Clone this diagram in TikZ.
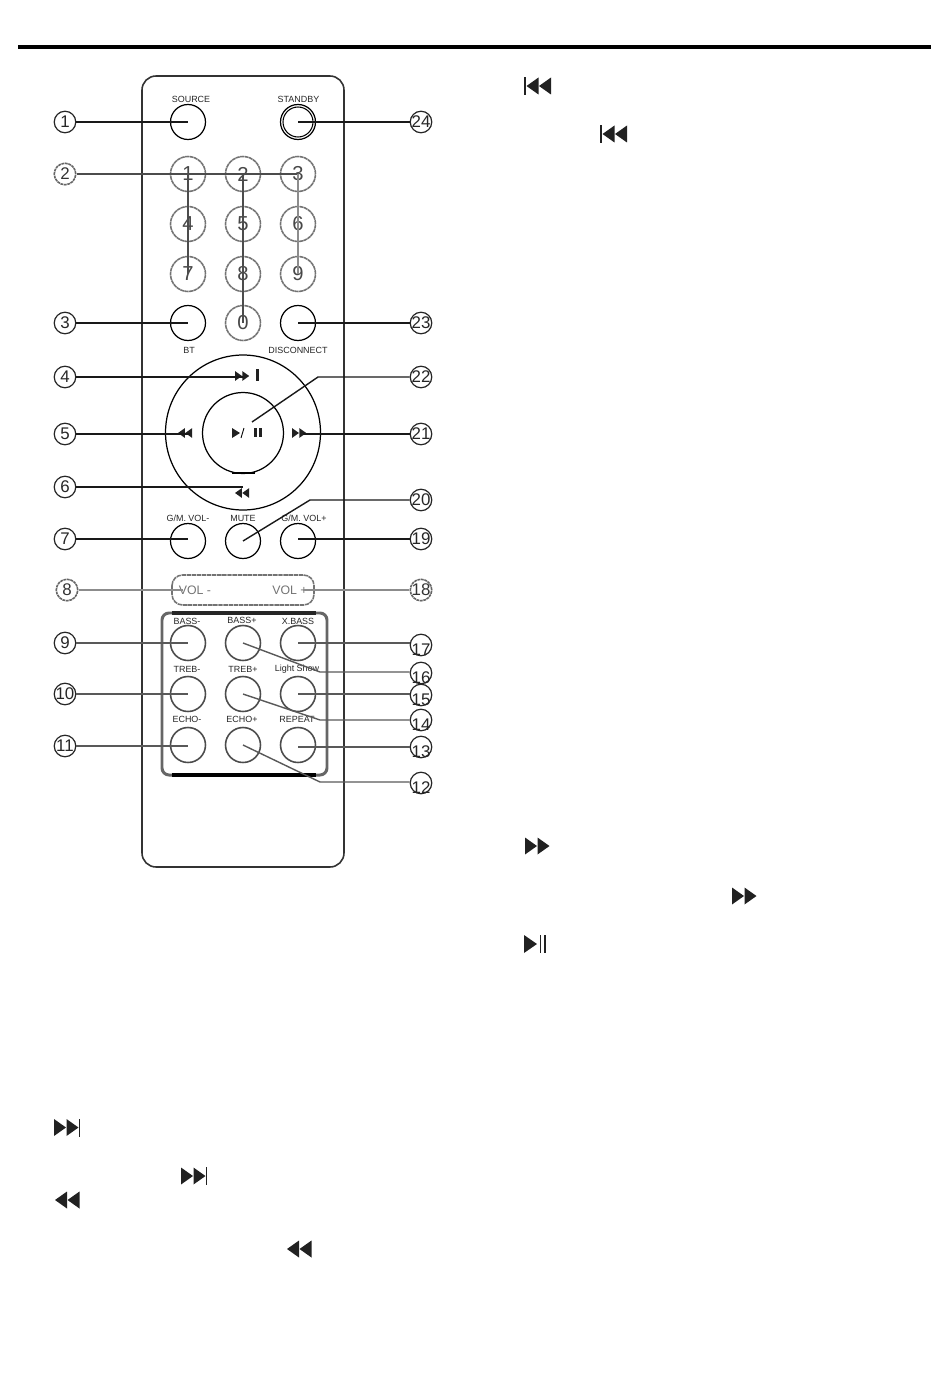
\documentclass[tikz,border=0pt]{standalone}
\usepackage{fontspec}
\setmainfont{Liberation Sans}
\usetikzlibrary{positioning, calc}
\definecolor{iconblack}{rgb}{0.13,0.13,0.13}
\newcommand{\midNum}[1]{\makebox[0pt]{#1}}
\newcommand{\lowNum}[1]{\makebox[0pt]{\raisebox{-6pt}[0pt][0pt]{#1}}}
\tikzset{
	every text node part/.style = {align=center},
	callout/.style = {draw, circle, inner sep=0pt, minimum size=0.43cm, line width=0.7pt, font=\fontsize{9.6}{9.6}\selectfont, color=black!85},
	calloutgray/.style = {callout, draw=black!60, text=black!80, dash pattern=on 1.6pt off 0.4pt, line width=0.9pt},
	keybtn/.style = {draw, circle, inner sep=0pt, minimum size=0.7cm, line width=0.7pt},
	keygray/.style = {keybtn, draw=black!55, text=black!72, line width=0.9pt, dash pattern=on 2.2pt off 0.3pt, font=\fontsize{11.5}{11.5}\selectfont},
	keysound/.style = {keybtn, color=black!70, line width=0.9pt},
	keylabel/.style = {inner sep=0pt, font=\fontsize{5.1}{5.1}\selectfont, color=black!85},
	lead/.style = {line width=0.8pt, color=black!90},
	leadgray/.style = {line width=0.8pt, color=black!45},
	leadsound/.style = {line width=0.8pt, color=black!65},
	fwdtwo/.pic = {
		\fill[iconblack] (0,-8.5) -- (12,0) -- (0,8.5) -- cycle;
		\fill[iconblack] (12.5,-8.5) -- (24.5,0) -- (12.5,8.5) -- cycle;
	},
	rewtwo/.pic = {
		\fill[iconblack] (12,-8.5) -- (0,0) -- (12,8.5) -- cycle;
		\fill[iconblack] (24.5,-8.5) -- (12.5,0) -- (24.5,8.5) -- cycle;
	},
	nexticon/.pic = {
		\pic {fwdtwo};
		\fill[iconblack] (24.5,-9) rectangle (26.2,9);
	},
	previcon/.pic = {
		\fill[iconblack] (0,-9) rectangle (1.7,9);
		\pic at (2.5,0) {rewtwo};
	}
}

\begin{document}
\begin{tikzpicture}[x=0.02cm, y=-0.02cm]
	\useasboundingbox (0,0) rectangle (950,1392);
	
	\pgfmathsetmacro{\xL}{188}
	\pgfmathsetmacro{\xM}{243}
	\pgfmathsetmacro{\xR}{298}
	
	\draw [line width=2.3pt] (18,47) -- (931,47);
	
	% remote body
	\draw [line width=0.9pt, color=black!80, rounded corners=8pt] (142,76) rectangle (344,867);
	\draw [line width=1.7pt, color=black!60, rounded corners=4pt] (162,613) rectangle (327,775);
	\draw [line width=1.9pt, color=black!85] (172,613) -- (316,613);
	\draw [line width=2.2pt] (172,775) -- (316,775);
	
	% top buttons
	\node [keybtn] (btnSource) at (\xL,122) {};
	\node [keybtn] (btnStandby) at (\xR,122) {};
	\draw [line width=0.6pt] (\xR,122) circle (15);
	\node [keylabel] (txtSource) at (191,99) {SOURCE};
	\node [keylabel] (txtStandby) at (298.5,99) {STANDBY};
	
	% number keys
	\node [keygray] (key1) at (\xL,174) {1};
	\node [keygray] (key2) at (\xM,174) {2};
	\node [keygray] (key3) at (\xR,174) {3};
	\node [keygray] (key4) at (\xL,224) {4};
	\node [keygray] (key5) at (\xM,224) {5};
	\node [keygray] (key6) at (\xR,224) {6};
	\node [keygray] (key7) at (\xL,274) {7};
	\node [keygray] (key8) at (\xM,274) {8};
	\node [keygray] (key9) at (\xR,274) {9};
	\node [keygray] (key0) at (\xM,323) {0};
	\node [keybtn] (btnBT) at (\xL,323) {};
	\node [keybtn] (btnDisc) at (\xR,323) {};
	\node [keylabel] (txtBT) at (189,350) {BT};
	\node [keylabel] (txtDisc) at (298,350) {DISCONNECT};
	
	% wheel
	\node [draw, circle, inner sep=0pt, minimum size=3.1cm, line width=0.7pt] (wheelOut) at (243,432.5) {};
	\node [draw, circle, inner sep=0pt, minimum size=1.62cm, line width=0.7pt] (wheelIn) at (243,433) {};
	\draw [line width=1.4pt] (232,473) -- (255,473);
	\pic [scale=0.58] at (235,376) {fwdtwo};
	\fill [iconblack] (255.5,369) rectangle (258.5,381);
	\pic [scale=0.58] at (178,433) {rewtwo};
	\pic [scale=0.58] at (292,433) {fwdtwo};
	\pic [scale=0.58] at (235,493) {rewtwo};
	\fill [iconblack] (232,428) -- (240,433) -- (232,438) -- cycle;
	\draw [line width=0.5pt] (241,438) -- (244,428);
	\fill [iconblack] (254,428) rectangle (257,437);
	\fill [iconblack] (258.5,428) rectangle (261.5,437);
	
	% volume row
	\node [keybtn] (btnGmDown) at (\xL,541) {};
	\node [keybtn] (btnMute) at (\xM,541) {};
	\node [keybtn] (btnGmUp) at (\xR,541) {};
	\node [keylabel] (txtGmDown) at (188,518) {G/M. VOL-};
	\node [keylabel] (txtMute) at (243,518) {MUTE};
	\node [keylabel] (txtGmUp) at (304,518) {G/M. VOL+};
	\draw [line width=0.9pt, color=black!55, dash pattern=on 2.5pt off 0.4pt, rounded corners=6pt] (172,575) rectangle (314,605);
	\node [inner sep=0pt, font=\fontsize{7}{7}\selectfont, color=black!55] (txtVolDown) at (195,590.5) {VOL -};
	\node [inner sep=0pt, font=\fontsize{7}{7}\selectfont, color=black!55] (txtVolUp) at (290,590.5) {VOL +};
	
	% sound keys
	\node [keysound] (btnBassDown) at (\xL,643) {};
	\node [keysound] (btnBassUp) at (\xM,643) {};
	\node [keysound] (btnXBass) at (\xR,643) {};
	\node [keysound] (btnTrebDown) at (\xL,694) {};
	\node [keysound] (btnTrebUp) at (\xM,694) {};
	\node [keysound] (btnLight) at (\xR,694) {};
	\node [keysound] (btnEchoDown) at (\xL,745) {};
	\node [keysound] (btnEchoUp) at (\xM,745) {};
	\node [keysound] (btnRepeat) at (\xR,745) {};
	\node [keylabel] (txtBassDown) at (187,621) {BASS-};
	\node [keylabel] (txtBassUp) at (242,620) {BASS+};
	\node [keylabel] (txtXBass) at (298,621) {X.BASS};
	\node [keylabel] (txtTrebDown) at (187,669) {TREB-};
	\node [keylabel] (txtTrebUp) at (243,669) {TREB+};
	\node [keylabel] (txtLight) at (297,669.5) {Light Show};
	\node [keylabel] (txtEchoDown) at (187,719) {ECHO-};
	\node [keylabel] (txtEchoUp) at (242,719) {ECHO+};
	\node [keylabel] (txtRepeat) at (297,719) {REPEAT};
	
	% callouts left
	\node [callout] (c1) at (65,122) {1};
	\node [calloutgray] (c2) at (65,174) {2};
	\node [callout] (c3) at (65,323) {3};
	\node [callout] (c4) at (65,377) {4};
	\node [callout] (c5) at (65,434) {5};
	\node [callout] (c6) at (65,487) {6};
	\node [callout] (c7) at (65,539) {7};
	\node [calloutgray] (c8) at (67,590) {8};
	\node [callout] (c9) at (65,643) {9};
	\node [callout] (c10) at (65,694) {\midNum{10}};
	\node [callout] (c11) at (65,746) {\midNum{11}};
	
	% callouts right
	\node [callout] (c24) at (421,122) {\midNum{24}};
	\node [callout] (c23) at (421,323) {\midNum{23}};
	\node [callout] (c22) at (421,377) {\midNum{22}};
	\node [callout] (c21) at (421,434) {\midNum{21}};
	\node [callout] (c20) at (421,500) {\midNum{20}};
	\node [callout] (c19) at (421,539) {\midNum{19}};
	\node [calloutgray] (c18) at (421,590) {\midNum{18}};
	\node [callout] (c17) at (421,645) {\lowNum{17}};
	\node [callout] (c16) at (421,673) {\lowNum{16}};
	\node [callout] (c15) at (421,695) {\lowNum{15}};
	\node [callout] (c14) at (421,720) {\lowNum{14}};
	\node [callout] (c13) at (421,747) {\lowNum{13}};
	\node [callout] (c12) at (421,783) {\lowNum{12}};
	
	\coordinate (e4) at (243,377);
	\coordinate (e5) at (190,434);
	\coordinate (e6) at (243,487);
	\coordinate (e21) at (303,434);
	\coordinate (e8) at (183,590);
	\coordinate (e18) at (303,590);
	\coordinate (k22) at (318,377);
	\coordinate (e22) at (252,422);
	\coordinate (k20) at (310,500);
	\coordinate (k16) at (320,672);
	\coordinate (k14) at (320,720);
	\coordinate (k12) at (320,782);
	
	% leaders
	\draw [lead] (c1) -- (btnSource.center);
	\draw [leadgray, color=black!70] (c2) -- (key3.center);
	\draw [lead, color=black!70] (key1.center) -- (key7.center);
	\draw [lead, color=black!70] (key2.center) -- (key0.center);
	\draw [leadgray] (key3.center) -- (key9.center);
	\draw [lead] (c3) -- (btnBT.center);
	\draw [lead] (c4) -- (e4);
	\draw [lead] (c5) -- (e5);
	\draw [lead] (c6) -- (e6);
	\draw [lead] (c7) -- (btnGmDown.center |- c7);
	\draw [leadgray] (c8) -- (e8);
	\draw [leadsound] (c9) -- (btnBassDown.center);
	\draw [leadsound] (c10) -- (btnTrebDown.center);
	\draw [leadsound] (c11) -- (btnEchoDown.center |- c11);
	\draw [leadsound] (c12.west |- k12) -- (k12) -- (btnEchoUp.center);
	\draw [leadsound] (c13) -- (btnRepeat.center |- c13);
	\draw [leadsound] (c14) -- (k14) -- (btnTrebUp.center);
	\draw [leadsound] (c15.west |- btnLight) -- (btnLight.center);
	\draw [leadsound] (c16.west |- k16) -- (k16) -- (btnBassUp.center);
	\draw [leadsound] (c17.west |- btnXBass) -- (btnXBass.center);
	\draw [leadgray] (c18) -- (e18);
	\draw [lead] (c19) -- (btnGmUp.center |- c19);
	\draw [lead] (c20) -- (k20) -- (btnMute.center);
	\draw [lead] (c21) -- (e21);
	\draw [lead] (c22) -- (k22) -- (e22);
	\draw [lead] (c23) -- (btnDisc.center);
	\draw [lead] (c24) -- (btnStandby.center);
	
	% icons beside the text
	\pic at (524,86) {previcon};
	\pic at (600,134) {previcon};
	\pic at (525,846) {fwdtwo};
	\pic at (732,896) {fwdtwo};
	\fill [iconblack] (524,935) -- (537,944) -- (524,953) -- cycle;
	\fill [iconblack] (539.5,935) rectangle (541.2,953);
	\fill [iconblack] (544,935) rectangle (545.8,953);
	\pic at (54,1127.5) {nexticon};
	\pic at (181,1176) {nexticon};
	\pic at (55,1200) {rewtwo};
	\pic at (287,1249) {rewtwo};
\end{tikzpicture}
\end{document}
